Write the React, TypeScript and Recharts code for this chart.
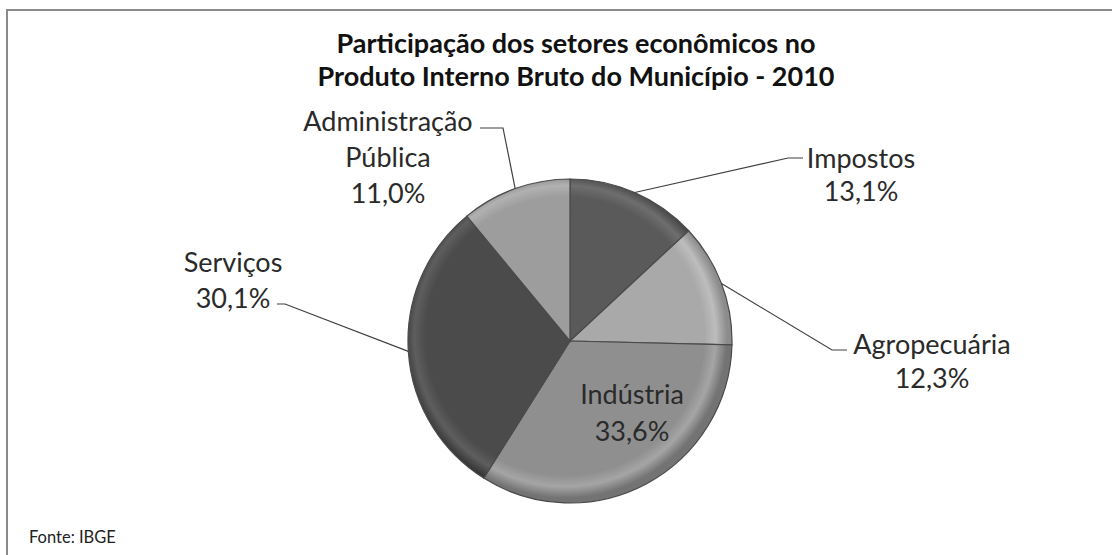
import React from "react";
import { Cell, Pie, PieChart } from "recharts";

// Setores e participação no PIB (%)
const SECTORS = ["Impostos", "Agropecuária", "Indústria", "Serviços", "Administração Pública"];
const SHARES = [13.1, 12.3, 33.6, 30.1, 11.0];

const TITLE_LINES = ["Participação dos setores econômicos no", "Produto Interno Bruto do Município - 2010"];
const SOURCE = "Fonte: IBGE";

// Grayscale fills per slice: base, rim highlight, rim shadow
const COLORS = ["#5a5a5a", "#a9a9a9", "#8f8f8f", "#4b4b4b", "#9d9d9d"];
const HIGHLIGHTS = ["#6e6e6e", "#bdbdbd", "#a5a5a5", "#5e5e5e", "#b1b1b1"];
const SHADOWS = ["#444", "#8c8c8c", "#737373", "#363636", "#808080"];

// Label placement relative to the pie centre (text centre, leader-line elbow and end)
const LABEL_LAYOUT = [
  { tx: 291, ty: -184, lh: 33, elbow: [218, -183], end: [233, -183] },
  { tx: 362, ty: 2, lh: 34, elbow: [262, 9], end: [277, 9] },
  { tx: 62, ty: 52, lh: 37, elbow: null, end: null },
  { tx: -337, ty: -80, lh: 36, elbow: [-285, -37], end: [-293, -37] },
  { tx: -182, ty: -221, lh: 36, elbow: [-67, -213], end: [-90, -213] },
];

const FONT = "Lato, 'Open Sans', sans-serif";
const CX = 565;
const CY = 336;
const R = 162;

const chartData = SECTORS.map((name, i) => ({ name, value: SHARES[i] }));

const fmt = (v: number) => v.toFixed(1).replace(".", ",") + "%";

const renderLabel = (props: any) => {
  const { cx, cy, midAngle, outerRadius, index, name, value } = props;
  const layout = LABEL_LAYOUT[index];
  const RAD = Math.PI / 180;
  const sx = cx + outerRadius * Math.cos(-midAngle * RAD);
  const sy = cy + outerRadius * Math.sin(-midAngle * RAD);
  const lines = name === "Administração Pública" ? ["Administração", "Pública"] : [name];
  lines.push(fmt(value));
  return (
    <g key={`lbl-${index}`}>
      {layout.elbow && (
        <polyline
          points={`${sx},${sy} ${cx + layout.elbow[0]},${cy + layout.elbow[1]} ${cx + layout.end[0]},${cy + layout.end[1]}`}
          fill="none"
          stroke="#404040"
          strokeWidth={1.2}
        />
      )}
      {lines.map((t, i) => (
        <text
          key={i}
          x={cx + layout.tx}
          y={cy + layout.ty + i * layout.lh}
          textAnchor="middle"
          dominantBaseline="central"
          fontFamily={FONT}
          fontSize={27}
          fill="#2a2a2a"
        >
          {t}
        </text>
      ))}
    </g>
  );
};

const App = () => {
  return (
    <div
      style={{
        position: "absolute",
        left: 0,
        top: 0,
        width: 1112,
        height: 555,
        overflow: "hidden",
        background: "#fff",
      }}
    >
      <div
        style={{
          position: "absolute",
          left: 6,
          top: 9,
          width: 1200,
          height: 700,
          borderTop: "2px solid #8a8a8a",
          borderLeft: "2px solid #8a8a8a",
        }}
      />
      <div
        style={{
          position: "absolute",
          left: 0,
          top: 26,
          width: 1152,
          textAlign: "center",
          fontFamily: FONT,
          fontWeight: 700,
          fontSize: 27,
          lineHeight: "33px",
          color: "#111",
        }}
      >
        {TITLE_LINES.map((t) => (
          <div key={t}>{t}</div>
        ))}
      </div>
      <div
        style={{
          position: "absolute",
          left: 29,
          top: 527,
          fontFamily: FONT,
          fontSize: 16.5,
          color: "#222",
        }}
      >
        {SOURCE}
      </div>
      <div style={{ position: "absolute", left: 0, top: 0 }}>
        <PieChart width={1112} height={555}>
          <defs>
            {COLORS.map((c, i) => (
              <radialGradient key={i} id={`slice-${i}`} gradientUnits="userSpaceOnUse" cx={CX} cy={CY} r={R}>
                <stop offset="0%" stopColor={c} />
                <stop offset="86%" stopColor={c} />
                <stop offset="93%" stopColor={HIGHLIGHTS[i]} />
                <stop offset="100%" stopColor={SHADOWS[i]} />
              </radialGradient>
            ))}
            <filter id="pie-shadow" x="-20%" y="-20%" width="140%" height="140%">
              <feDropShadow dx="3" dy="4" stdDeviation="4" floodColor="#000" floodOpacity="0.25" />
            </filter>
          </defs>
          <Pie
            data={chartData}
            dataKey="value"
            nameKey="name"
            cx={CX}
            cy={CY}
            outerRadius={R}
            startAngle={90}
            endAngle={-270}
            stroke="#4a4a4a"
            strokeWidth={1.2}
            label={renderLabel}
            labelLine={false}
            isAnimationActive={false}
          >
            {chartData.map((entry, index) => (
              <Cell key={`cell-${index}`} fill={`url(#slice-${index})`} />
            ))}
          </Pie>
        </PieChart>
      </div>
    </div>
  );
};

export default App;
